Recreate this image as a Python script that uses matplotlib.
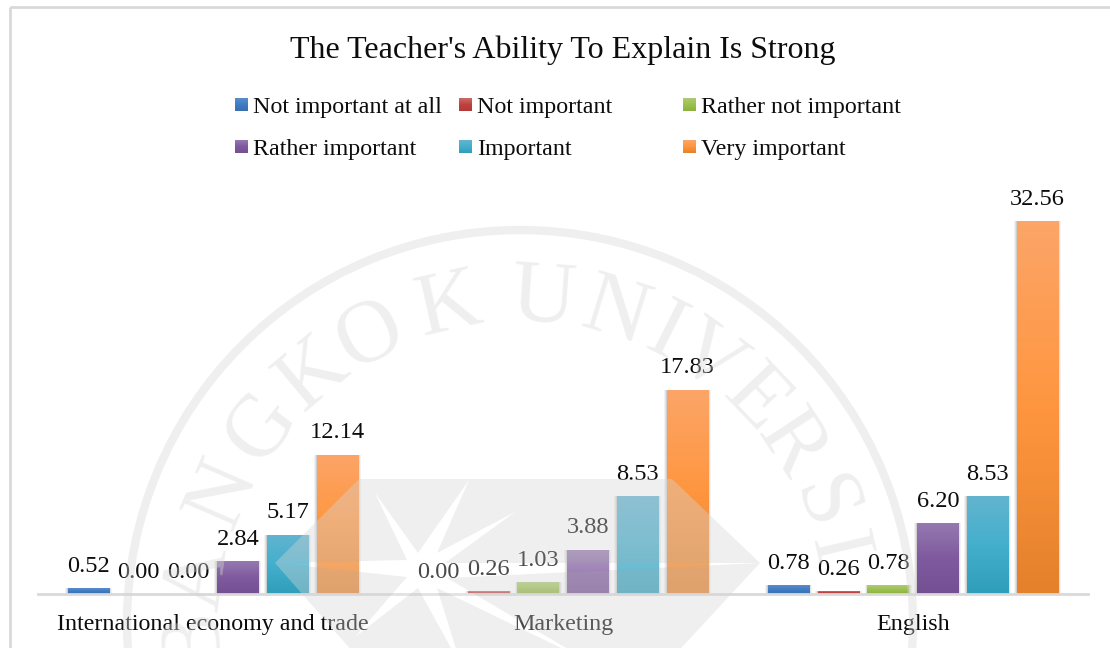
import numpy as np
import matplotlib
matplotlib.use("Agg")
import matplotlib.pyplot as plt
from matplotlib.colors import LinearSegmentedColormap
from matplotlib.patches import Rectangle, Circle, PathPatch
from matplotlib.path import Path

plt.rcParams['font.family'] = ['Liberation Serif', 'DejaVu Serif']

# Step 1: the values
categories = ["International economy and trade", "Marketing", "English"]
series_names = ["Not important at all", "Not important", "Rather not important",
                "Rather important", "Important", "Very important"]
not_important_at_all = [0.52, 0.00, 0.78]
not_important = [0.00, 0.26, 0.26]
rather_not_important = [0.00, 1.03, 0.78]
rather_important = [2.84, 3.88, 6.20]
important = [5.17, 8.53, 8.53]
very_important = [12.14, 17.83, 32.56]
all_series = [not_important_at_all, not_important, rather_not_important,
              rather_important, important, very_important]

# top, middle, bottom colour of each gradient
gradients = [
    ["#5B8CCB", "#3F7CC4", "#3A6FB0"],
    ["#CD6A67", "#C0413F", "#B23A38"],
    ["#ADCB78", "#9CC14E", "#8DB03F"],
    ["#9679B0", "#7F5A9E", "#744F92"],
    ["#62B4CF", "#44AFCD", "#2F9EBB"],
    ["#FCA568", "#FF963F", "#E5812B"],
]

W, H = 1110, 648
fig = plt.figure(figsize=(W / 100, H / 100), dpi=100, facecolor="white")


def make_cmap(cols):
    return LinearSegmentedColormap.from_list("g", cols[::-1])


grad = np.linspace(0, 1, 64).reshape(-1, 1)

# Step 2: background layer in pixel coordinates (frame, title, legend)
bg = fig.add_axes([0, 0, 1, 1], zorder=0)
bg.set_xlim(0, W)
bg.set_ylim(H, 0)
bg.axis("off")
bg.add_patch(Rectangle((9.5, 7), 1200, 800, fill=False, edgecolor="#D9D9D9", linewidth=2))
bg.text(563, 50, "The Teacher's Ability To Explain Is Strong", fontsize=23,
        ha="center", va="center", color="#0D0D0D")

legend_x = [235, 459, 683]
legend_y = [105, 147]
for i, name in enumerate(series_names):
    x = legend_x[i % 3]
    y = legend_y[i // 3]
    bg.imshow(grad, cmap=make_cmap(gradients[i]), extent=(x, x + 13, y + 6.5, y - 6.5),
              aspect="auto", origin="lower", zorder=2)
    bg.text(x + 18, y + 3, name, fontsize=17.25, ha="left", va="center", color="#0D0D0D")
bg.set_xlim(0, W)
bg.set_ylim(H, 0)

# Step 3: the bars
ax = fig.add_axes([38 / W, (H - 594) / H, 1050 / W, 394 / H], zorder=1)
ax.patch.set_alpha(0)
x_pos = np.arange(len(categories))
bar_step = 49.8 / 350
bar_width = 41.5 / 350

for i, values in enumerate(all_series):
    xs = x_pos + (i - 2.5) * bar_step
    # soft shadow behind each bar
    for grow, a in [(0.008, 0.07), (0.005, 0.10), (0.002, 0.14)]:
        for xv, v in zip(xs, values):
            if v > 0:
                ax.add_patch(Rectangle((xv - bar_width / 2 - grow, -0.12), bar_width + 2 * grow,
                                       v + 0.12, facecolor="#555555", alpha=a,
                                       edgecolor="none", zorder=1, clip_on=False))
    bars = ax.bar(xs, values, width=bar_width, color="none", zorder=2)
    for rect, xv, v in zip(bars, xs, values):
        if v > 0:
            im = ax.imshow(grad, cmap=make_cmap(gradients[i]),
                           extent=(xv - bar_width / 2, xv + bar_width / 2, 0, v),
                           aspect="auto", origin="lower", zorder=3)
            im.set_clip_path(rect)
        ax.annotate(f"{v:.2f}", (xv, v), xytext=(0, 15.8), textcoords="offset points",
                    ha="center", va="center", fontsize=17.6, color="#0D0D0D", zorder=4)

ax.set_xlim(-0.5, 2.5)
ax.set_ylim(0, 394 / 11.456)
ax.set_xticks(x_pos)
ax.set_xticklabels(categories, fontsize=17.3, color="#0D0D0D")
ax.tick_params(axis="x", length=0, pad=14.5)
ax.set_yticks([])
for side in ["top", "left", "right"]:
    ax.spines[side].set_visible(False)
ax.spines["bottom"].set_color("#D9D9D9")
ax.spines["bottom"].set_linewidth(2)
ax.spines["bottom"].set_zorder(5)

# Step 4: the university watermark lies over everything
wm = fig.add_axes([0, 0, 1, 1], zorder=10)
wm.set_xlim(0, W)
wm.set_ylim(H, 0)
wm.axis("off")
wm_color = "#D6D6D6"
wm_alpha = 0.39
cx, cy = 520, 623

wm.add_patch(Circle((cx, cy), 393, fill=False, edgecolor=wm_color, alpha=wm_alpha, linewidth=6))

letters = list("BANGKOK") + list("UNIVERSI")
angles = [-93, -82, -66.5, -53, -39.8, -27.5, -12.7,
          4.1, 17.2, 26.7, 35.6, 46.5, 56.7, 68.6, 76.8]
for ch, ang in zip(letters, angles):
    r = np.radians(ang)
    wm.text(cx + 324 * np.sin(r), cy - 324 * np.cos(r), ch, fontsize=64, rotation=-ang,
            rotation_mode="anchor", ha="center", va="center", color=wm_color, alpha=wm_alpha)

# diamond with a star cut out of it
diamond = [(359, 479), (672, 479), (760, 563), (670, 660), (360, 660), (275, 563)]
star = [(275, 563), (407, 560), (375, 493), (418, 553), (469, 480), (437, 553), (515, 512),
        (445, 563), (760, 563), (447, 578), (590, 662), (437, 588), (462, 668), (418, 588),
        (355, 637), (407, 577)]
verts = diamond + [diamond[0]] + star[::-1] + [star[-1]]
codes = [Path.MOVETO] + [Path.LINETO] * (len(diamond) - 1) + [Path.CLOSEPOLY] \
    + [Path.MOVETO] + [Path.LINETO] * (len(star) - 1) + [Path.CLOSEPOLY]
wm.add_patch(PathPatch(Path(verts, codes), facecolor=wm_color, edgecolor="none", alpha=wm_alpha))
wm.fill([p[0] for p in star], [p[1] for p in star], color="white", alpha=0.25, linewidth=0)

fig.savefig("out.png", dpi=100)
